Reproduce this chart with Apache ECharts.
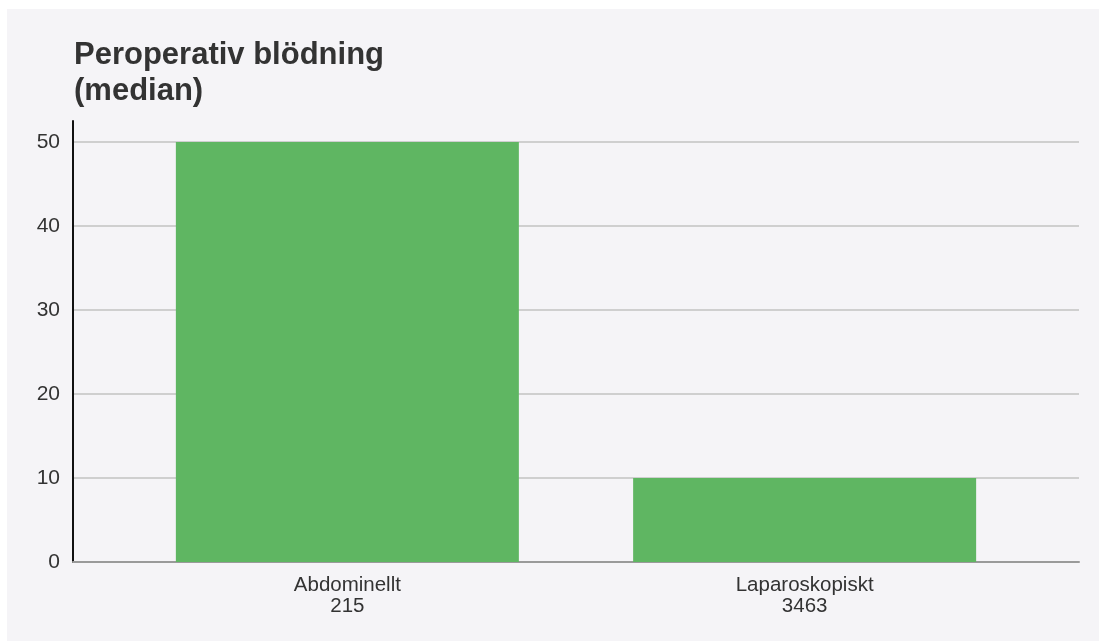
<!DOCTYPE html>
<html>
<head>
<meta charset="utf-8">
<style>
  html, body { margin: 0; padding: 0; background: #ffffff; }
  #panel { position: absolute; left: 7px; top: 9px; width: 1092px; height: 632px; background: #f5f4f7; }
  #chart { width: 1092px; height: 632px; }
</style>
<script src="https://cdn.jsdelivr.net/npm/echarts@6/dist/echarts.min.js"></script>
</head>
<body>
<div id="panel"><div id="chart"></div></div>
<script>
// Median peroperative bleeding per surgical approach, with number of cases
const categories = ['Abdominellt', 'Laparoskopiskt'];
const caseCounts = ['215', '3463'];
const medianValues = [50, 10];
const yTicks = [0, 10, 20, 30, 40, 50];

const font = '"Liberation Sans", Arial, sans-serif';

const chart = echarts.init(document.getElementById('chart'));
chart.setOption({
  animation: false,
  backgroundColor: 'transparent',
  title: {
    text: 'Peroperativ blödning\n(median)',
    left: 67,
    top: 28,
    padding: 0,
    textStyle: { fontFamily: font, fontSize: 31, fontWeight: 'bold', color: '#333333', lineHeight: 36 }
  },
  grid: { left: 66, right: 20, top: 112, bottom: 79, containLabel: false },
  xAxis: {
    type: 'value',
    min: -0.6,
    max: 1.6,
    splitLine: { show: false },
    axisTick: { show: false },
    axisLine: { show: true, lineStyle: { color: '#9a9a9a', width: 2 } },
    axisLabel: {
      customValues: [0, 1],
      margin: 13,
      fontFamily: font,
      fontSize: 20.5,
      lineHeight: 21,
      color: '#333333',
      formatter: function (v) {
        const i = Math.round(v);
        return categories[i] + '\n' + caseCounts[i];
      }
    }
  },
  yAxis: {
    type: 'value',
    min: 0,
    max: 52.5,
    interval: 10,
    axisLine: { show: true, onZero: false, lineStyle: { color: '#111111', width: 2 } },
    axisTick: { show: false },
    axisLabel: {
      showMaxLabel: false,
      margin: 13,
      fontFamily: font,
      fontSize: 21,
      color: '#333333',
      formatter: function (v) { return yTicks.indexOf(v) >= 0 ? String(v) : ''; }
    },
    splitLine: { show: true, showMaxLine: false, lineStyle: { color: '#cfcfcf', width: 2 } }
  },
  series: [{
    type: 'bar',
    barWidth: 343,
    itemStyle: { color: '#5fb662' },
    data: medianValues.map(function (v, i) { return [i, v]; })
  }]
});
</script>
</body>
</html>
